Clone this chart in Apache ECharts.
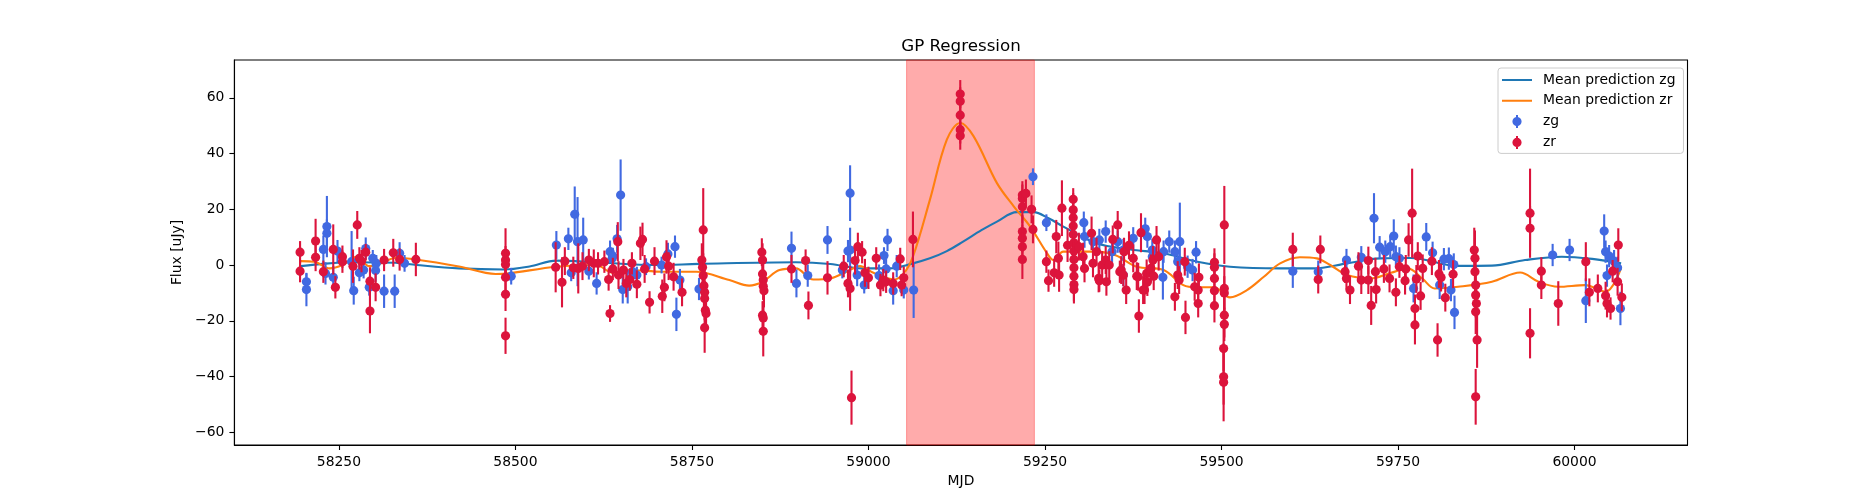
<!DOCTYPE html>
<html>
<head>
    <meta charset="utf-8" />
    <title>GP Regression</title>
    <script type="text/javascript" src="https://cdn.jsdelivr.net/npm/echarts/dist/echarts.min.js"></script>
    <style>
        html, body { margin: 0; padding: 0; background: #fff; }
        #main { width: 1875px; height: 500px; }
    </style>
</head>
<body>
    <div id="main"></div>
    <script type="text/javascript">
        // observed points: [MJD, flux, error]
        var zgPoints = [
            [58204, -6.0, 3], [58204, -8.8, 6], [58228, 5.6, 5], [58231, -3.0, 4], [58233, 13.8, 11], [58233, 11.4, 5],
            [58242, -4.4, 4], [58248, 5.0, 4], [58268, 1.2, 11], [58271, -9.2, 5], [58279, -2.8, 3], [58285, -1.8, 3],
            [58288, 5.9, 4], [58293, -8.0, 3], [58298, 2.4, 3], [58302, -2.0, 4], [58303, 0.6, 3], [58314, -9.4, 6],
            [58329, -9.4, 6], [58336, 4.2, 4], [58343, 0.6, 3],
            [58494, -4.0, 3],
            [58558, 7.2, 5], [58575, 9.4, 4], [58579, -2.8, 3], [58584, 18.2, 10], [58588, 8.4, 16], [58596, 9.0, 8],
            [58604, -2.2, 3], [58615, -6.6, 4],
            [58634, 4.8, 4], [58637, 2.4, 3], [58638, 3.2, 3], [58644, 9.4, 5], [58649, 25.1, 12.8], [58652, -8.8, 5],
            [58659, -7.8, 6], [58666, -2.4, 4], [58672, -3.6, 3], [58685, -0.6, 3], [58707, 0.0, 3], [58716, 4.0, 4],
            [58726, 6.6, 4], [58728, -17.7, 6], [58733, -5.4, 4], [58760, -8.6, 4],
            [58891, 6.0, 6], [58898, -6.6, 5], [58914, -3.8, 4], [58942, 9.0, 5], [58963, -1.8, 3], [58971, 5.0, 4],
            [58974, 25.8, 10], [58974, 5.4, 8], [58984, -3.6, 4], [58994, -7.2, 3], [59015, -3.8, 4], [59022, 3.4, 3],
            [59025, -1.4, 4], [59027, 9.0, 4], [59035, -9.2, 5], [59040, -0.4, 4], [59050, -9.0, 3], [59064, -9.0, 10],
            [59233, 31.7, 3], [59252, 15.2, 3], [59305, 15.2, 4], [59306, 10.2, 4], [59318, 8.4, 4], [59327, 9.0, 4],
            [59336, 12.0, 4], [59345, 4.8, 4], [59353, 8.4, 4], [59361, -3.6, 4], [59361, 5.4, 4], [59375, 9.6, 4],
            [59392, 13.0, 4], [59395, 10.2, 4], [59402, 3.0, 4], [59402, 5.4, 4], [59417, -4.4, 8], [59418, 4.8, 4],
            [59426, 8.4, 4], [59434, 4.8, 4], [59438, 1.2, 4], [59441, 8.4, 14], [59452, -0.6, 4], [59459, -1.8, 4],
            [59464, 4.6, 4],
            [59601, -2.2, 6], [59637, -2.4, 4], [59677, 1.8, 4], [59698, 2.8, 4], [59716, 16.8, 9], [59724, 6.4, 4],
            [59732, 4.8, 4], [59739, 6.6, 4], [59744, 10.4, 6], [59747, 3.0, 4], [59752, 2.4, 4], [59772, -8.4, 5],
            [59790, 10.1, 5], [59799, 4.4, 4], [59809, -7.2, 5], [59815, 2.1, 4], [59822, 2.3, 4], [59825, -9.0, 4],
            [59829, 0.2, 4], [59830, -17.0, 6], [59969, 3.6, 4], [59993, 5.4, 4], [60016, -12.8, 8], [60042, 12.2, 6],
            [60044, 4.8, 4], [60046, -3.8, 4], [60049, 3.2, 4], [60056, 1.4, 4], [60061, -1.0, 4], [60065, -15.6, 6]
        ];
        var zrPoints = [
            [58195, 4.6, 4], [58195, -2.2, 4], [58217, 8.6, 8], [58217, 2.8, 5], [58228, -2.4, 4], [58242, 5.6, 9],
            [58245, -8.0, 4], [58255, 3.0, 4], [58255, 1.2, 4], [58270, -0.4, 6], [58276, 14.4, 5], [58279, 2.4, 4],
            [58282, 1.4, 4], [58288, 4.6, 3], [58294, -5.8, 5], [58294, -16.5, 8], [58302, -8.0, 5], [58314, 1.8, 4],
            [58327, 4.4, 5], [58336, 2.0, 4], [58359, 2.0, 6],
            [58486, 4.2, 9], [58486, 1.8, 5], [58486, 0.2, 5], [58486, -4.4, 6], [58486, -10.5, 6], [58486, -25.4, 6.5],
            [58557, -0.8, 9], [58566, -6.2, 9], [58570, 1.4, 5], [58582, -1.0, 4], [58589, -1.2, 9], [58595, -0.4, 5],
            [58604, 1.8, 4], [58611, 0.6, 5],
            [58617, 0.6, 4], [58626, 1.2, 4], [58632, -5.2, 4], [58634, -17.4, 3], [58638, -1.4, 4], [58645, 8.4, 7],
            [58646, -3.6, 5], [58653, -1.8, 4], [58657, -6.6, 5], [58662, -5.2, 4], [58665, 0.6, 4], [58672, -6.9, 5],
            [58677, 7.8, 6], [58680, 9.2, 6], [58683, -1.4, 5], [58690, -13.4, 4], [58697, 1.4, 5], [58708, -11.2, 6],
            [58711, -8.0, 5], [58714, 2.9, 6], [58717, -0.4, 5], [58724, -4.2, 5], [58736, -9.8, 5],
            [58764, 1.8, 6], [58765, -0.8, 7], [58766, 12.6, 15], [58766, -3.8, 8], [58767, -7.4, 9], [58768, -9.8, 10],
            [58768, -12.0, 6], [58769, -16.2, 8], [58770, -17.4, 6], [58768, -22.5, 9],
            [58849, 4.6, 5], [58850, 1.8, 6], [58850, -3.2, 6], [58851, -5.4, 7], [58851, -7.6, 5], [58852, -9.2, 6],
            [58850, -18.0, 5], [58851, -19.0, 6], [58851, -23.8, 9],
            [58891, -1.4, 5], [58911, 1.6, 4], [58915, -14.5, 5], [58942, -4.6, 6], [58965, -0.4, 4], [58971, -6.6, 5],
            [58974, -8.4, 8], [58976, -47.6, 9.7], [58981, 1.6, 5], [58985, 6.6, 5], [58991, 4.6, 4], [58995, -2.8, 5],
            [59000, -4.6, 4], [59011, 2.4, 4], [59017, -7.2, 4], [59021, -5.4, 4], [59025, -6.0, 4], [59035, -6.6, 4],
            [59045, 2.2, 4], [59047, -7.2, 4], [59050, -4.6, 4], [59063, 9.2, 10],
            [59130, 61.4, 5], [59130, 58.8, 5], [59130, 53.8, 5], [59130, 48.6, 5], [59130, 46.4, 5],
            [59218, 25.1, 5], [59218, 23.9, 5], [59218, 20.9, 6], [59218, 12.0, 6], [59218, 9.6, 5], [59218, 6.6, 5],
            [59218, 2.0, 7], [59223, 25.7, 5], [59231, 20.0, 5], [59233, 12.8, 5],
            [59252, 1.2, 4], [59255, -5.6, 4], [59263, -2.8, 5], [59266, 10.2, 6], [59269, 2.4, 6], [59270, -3.6, 6],
            [59274, 20.4, 10], [59282, 7.1, 6],
            [59290, 23.6, 4], [59290, 19.8, 6], [59290, 17.0, 6], [59290, 14.0, 6], [59290, 11.0, 6], [59291, 8.0, 6],
            [59291, 5.0, 6], [59291, 2.0, 6], [59291, -1.0, 6], [59291, -4.0, 6], [59291, -7.0, 6], [59291, -8.8, 5],
            [59298, 6.6, 5], [59304, 3.0, 5], [59306, -1.2, 5], [59316, 11.4, 6], [59318, 0.6, 5], [59323, 4.8, 5],
            [59326, -4.8, 5], [59327, -5.6, 4], [59331, 0.0, 5], [59336, 1.8, 5], [59337, -6.0, 5], [59341, 0.0, 5],
            [59346, 9.2, 5], [59353, 14.4, 5], [59356, -2.4, 4], [59358, -1.8, 5], [59361, -3.6, 4], [59362, 4.8, 5],
            [59365, -9.0, 5], [59369, 7.1, 5], [59375, 2.4, 5], [59380, -4.0, 5], [59382, -4.2, 5], [59383, -18.3, 6],
            [59386, 11.6, 7], [59389, -9.0, 5], [59391, -9.0, 5], [59394, -3.0, 5], [59395, -6.1, 5], [59400, -1.2, 5],
            [59403, 1.8, 5], [59404, -4.0, 5], [59408, 9.0, 5], [59411, 3.0, 5], [59434, -11.4, 5], [59438, -3.6, 5],
            [59440, -5.4, 5], [59448, 1.2, 5], [59449, -18.8, 6], [59462, -7.8, 5], [59467, -9.0, 5], [59467, -13.8, 5],
            [59468, -4.4, 5],
            [59490, 1.0, 5], [59490, -0.8, 5], [59490, -4.8, 5], [59490, -9.2, 5], [59490, -14.6, 6],
            [59504, 14.4, 14], [59504, -8.4, 8], [59504, -10.0, 6], [59504, -18.0, 8], [59504, -21.3, 6],
            [59503, -30.0, 8], [59503, -40.1, 10], [59503, -42.1, 14],
            [59601, 5.6, 6], [59637, -5.2, 5], [59640, 5.6, 5],
            [59675, -2.4, 4], [59677, -4.8, 4], [59682, -9.0, 5], [59694, -0.4, 5], [59698, -5.4, 5], [59708, 1.6, 5],
            [59708, -5.4, 5], [59712, -14.5, 7], [59718, -2.4, 5], [59719, -8.8, 5], [59730, -1.4, 5], [59738, -4.8, 5],
            [59747, -9.8, 5], [59752, -0.6, 4], [59760, -5.6, 5], [59761, -1.4, 5], [59765, 9.0, 6], [59770, 18.6, 16],
            [59774, -15.6, 5], [59774, -21.5, 7], [59776, -5.0, 5], [59778, 3.2, 5], [59782, -11.1, 5], [59785, -1.2, 5],
            [59798, 1.4, 5], [59806, -26.9, 6], [59808, -3.2, 5], [59811, -4.5, 5], [59817, -11.7, 5], [59828, -3.3, 5],
            [59858, 5.4, 8], [59859, 2.4, 10], [59859, -2.4, 12], [59860, -7.2, 9], [59860, -10.8, 8], [59861, -13.8, 8],
            [59860, -16.8, 8], [59862, -26.9, 10], [59860, -47.3, 10],
            [59937, 18.6, 16], [59937, 13.2, 8], [59937, -24.5, 9], [59953, -2.2, 5], [59953, -7.2, 5], [59977, -13.8, 8],
            [60016, 1.2, 7], [60021, -9.8, 5], [60033, -8.4, 5], [60044, -11.0, 5], [60046, -13.8, 5], [60051, -15.6, 4],
            [60054, -2.2, 4], [60061, -6.0, 5], [60062, 7.2, 6], [60067, -11.6, 5]
        ];

        // GP mean predictions: [MJD, flux]
        var zgMean = [
            [58196, -0.4], [58230, 0.5], [58270, 1.0], [58330, 0.8], [58360, 0.0], [58420, -1.2], [58484, -1.6],
            [58520, -0.5], [58558, 1.6], [58614, 1.0], [58700, 0.0], [58760, 0.4], [58897, 1.0], [58946, 0.4],
            [58990, -1.2], [59030, -1.2], [59063, 0.6], [59087, 2.4], [59111, 5.0], [59134, 8.4], [59160, 12.5],
            [59182, 15.6], [59210, 19.0], [59234, 19.0], [59255, 16.8], [59276, 13.8], [59323, 7.8], [59371, 5.6],
            [59418, 4.2], [59466, 1.2], [59512, -0.6], [59583, -1.2], [59630, -1.2], [59678, 0.6], [59725, 2.4],
            [59768, 2.5], [59835, -0.3], [59883, -0.2], [59930, 1.8], [59982, 3.0], [60025, 2.2], [60066, 0.6]
        ];
        var zrMean = [
            [58196, 1.4], [58215, 1.2], [58237, -1.2], [58255, 0.0], [58275, 3.0], [58293, -0.4], [58310, 0.6],
            [58331, 2.6], [58359, 2.0], [58420, -0.5], [58472, -3.2], [58490, -3.0], [58558, -0.6], [58614, 0.0],
            [58638, -2.8], [58661, -1.8], [58709, -2.4], [58756, -2.4], [58803, -5.4], [58831, -7.4], [58850, -6.0],
            [58874, -1.8], [58897, -1.2], [58922, -5.2], [58946, -4.8], [58969, -2.4], [58988, -0.4], [59007, -2.8],
            [59036, -5.2], [59050, -3.0], [59063, 3.0], [59087, 23.4], [59111, 45.0], [59130, 51.0], [59149, 46.2],
            [59182, 29.4], [59206, 21.0], [59229, 13.8], [59253, 4.2], [59262, 1.8], [59276, 4.8], [59323, 4.8],
            [59350, 3.5], [59380, -0.6], [59418, -1.8], [59446, -7.2], [59465, -8.0], [59489, -8.0], [59512, -11.6],
            [59536, -9.0], [59560, -4.2], [59583, 0.6], [59611, 2.8], [59635, 2.4], [59654, 0.0], [59678, -3.6],
            [59711, -4.8], [59740, -2.8], [59764, -1.2], [59785, -5.0], [59802, -8.4], [59835, -7.8], [59883, -6.0],
            [59923, -2.7], [59949, -6.0], [59977, -7.8], [60015, -7.2], [60044, -9.6], [60066, -1.0]
        ];

        var flareSpan = [59054, 59235];
        var xTicks = [58250, 58500, 58750, 59000, 59250, 59500, 59750, 60000];
        var yTicks = [-60, -40, -20, 0, 20, 40, 60];

        var FONT = 'DejaVu Sans';
        var BLUE = '#4169E1', RED = '#DC143C';
        // legend handles drawn in a 30 x 14 box (tiny corner marks fix the box size)
        var BOX = 'M0,0L0.01,0L0,0.01Z M30,14L29.99,14L30,13.99Z ';
        var LINE_ICON = 'path://' + BOX + 'M0,6L30,6L30,8L0,8Z';
        var ERR_ICON = 'path://' + BOX +
            'M14,0.5L16,0.5L16,13.5L14,13.5Z M10.4,7A4.6,4.6 0 1 1 19.6,7A4.6,4.6 0 1 1 10.4,7Z';

        function errSeries(name, pts, color, z) {
            return {
                name: name,
                type: 'custom',
                z: z,
                data: pts,
                encode: { x: 0, y: 1 },
                itemStyle: { color: color },
                renderItem: function (params, api) {
                    var x = api.value(0), y = api.value(1), e = api.value(2);
                    var lo = api.coord([x, y - e]), hi = api.coord([x, y + e]), c = api.coord([x, y]);
                    return {
                        type: 'group',
                        children: [
                            { type: 'line', shape: { x1: lo[0], y1: lo[1], x2: hi[0], y2: hi[1] }, style: { stroke: color, lineWidth: 2.1 } },
                            { type: 'circle', shape: { cx: c[0], cy: c[1], r: 4.6 }, style: { fill: color } }
                        ]
                    };
                }
            };
        }

        var labelStyle = { fontFamily: FONT, fontSize: 13.9, color: '#000' };
        function plain(v) { return String(v).replace('-', '\u2212'); }

        var myChart = echarts.init(document.getElementById('main'), null, { renderer: 'canvas' });
        var option = {
            animation: false,
            backgroundColor: '#fff',
            title: {
                text: 'GP Regression',
                left: 961, top: 38.5, textAlign: 'center', padding: 0,
                textStyle: { fontFamily: FONT, fontSize: 16.7, fontWeight: 'normal', color: '#000' }
            },
            grid: {
                left: 234.4, right: 187.5, top: 60, bottom: 55,
                show: true, borderColor: '#000', borderWidth: 1.1
            },
            legend: {
                orient: 'vertical',
                left: 1498, top: 68,
                padding: [5, 8, 4, 4],
                itemWidth: 30, itemHeight: 14, itemGap: 6.8,
                backgroundColor: 'rgba(255,255,255,0.8)',
                borderColor: '#cccccc', borderWidth: 1, borderRadius: 3,
                textStyle: { fontFamily: FONT, fontSize: 13.9, color: '#000', padding: [0, 0, 0, 6] },
                data: [
                    { name: 'Mean prediction zg', icon: LINE_ICON, itemStyle: { color: '#1f77b4' } },
                    { name: 'Mean prediction zr', icon: LINE_ICON, itemStyle: { color: '#ff7f0e' } },
                    { name: 'zg', icon: ERR_ICON, itemStyle: { color: BLUE } },
                    { name: 'zr', icon: ERR_ICON, itemStyle: { color: RED } }
                ]
            },
            xAxis: {
                type: 'value', min: 58102, max: 60160,
                name: 'MJD', nameLocation: 'middle', nameGap: 28, nameTextStyle: labelStyle,
                axisLine: { onZero: false, lineStyle: { color: '#000', width: 1.1 } },
                axisTick: { customValues: xTicks, length: 5, lineStyle: { color: '#000', width: 1.1 } },
                axisLabel: Object.assign({ customValues: xTicks, margin: 10, formatter: plain }, labelStyle),
                splitLine: { show: false }
            },
            yAxis: {
                type: 'value', min: -64.6, max: 73.6,
                name: 'Flux [uJy]', nameLocation: 'middle', nameGap: 39, nameTextStyle: labelStyle,
                axisLine: { show: true, onZero: false, lineStyle: { color: '#000', width: 1.1 } },
                axisTick: { show: true, customValues: yTicks, length: 5, lineStyle: { color: '#000', width: 1.1 } },
                axisLabel: Object.assign({ customValues: yTicks, margin: 10, formatter: plain }, labelStyle),
                splitLine: { show: false }
            },
            series: [
                {
                    name: 'flare',
                    type: 'custom',
                    z: 1,
                    silent: true,
                    data: [[flareSpan[0], 0, flareSpan[1]]],
                    encode: { x: [0, 2], y: 1 },
                    renderItem: function (params, api) {
                        var cs = params.coordSys;
                        var x0 = api.coord([api.value(0), 0])[0];
                        var x1 = api.coord([api.value(2), 0])[0];
                        return {
                            type: 'rect',
                            shape: { x: x0, y: cs.y, width: x1 - x0, height: cs.height },
                            style: { fill: 'rgba(255,0,0,0.33)', stroke: 'rgba(255,0,0,0.33)', lineWidth: 1 }
                        };
                    }
                },
                {
                    name: 'Mean prediction zg', type: 'line', z: 2, data: zgMean,
                    symbol: 'none', smooth: 0.35,
                    lineStyle: { color: '#1f77b4', width: 2.1 }, itemStyle: { color: '#1f77b4' }
                },
                {
                    name: 'Mean prediction zr', type: 'line', z: 2, data: zrMean,
                    symbol: 'none', smooth: 0.35,
                    lineStyle: { color: '#ff7f0e', width: 2.1 }, itemStyle: { color: '#ff7f0e' }
                },
                errSeries('zg', zgPoints, BLUE, 3),
                errSeries('zr', zrPoints, RED, 4)
            ]
        };
        myChart.setOption(option);
    </script>
</body>
</html>
